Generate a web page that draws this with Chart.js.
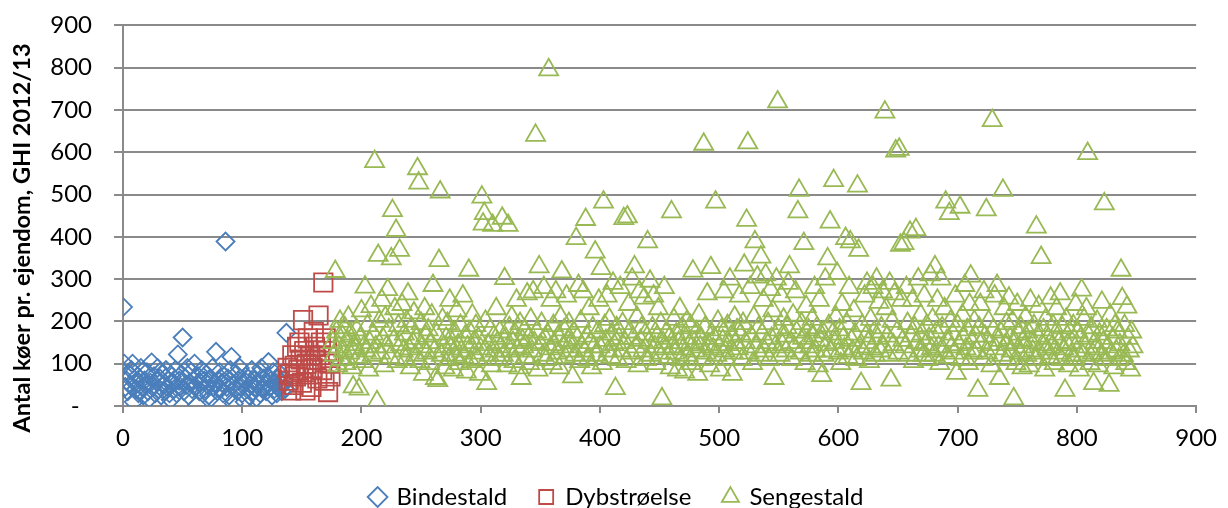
<!DOCTYPE html>
<html>
<head>
<meta charset="utf-8">
<script src="https://cdn.jsdelivr.net/npm/chart.js@4.4.0/dist/chart.umd.min.js"></script>
<style>
  html, body { margin: 0; padding: 0; background: #fff; overflow: hidden; }
  /* the y tick padding pushes the plot down a bit, so lift the whole canvas */
  #scatter-chart { display: block; margin-top: -11px; }
</style>
</head>
<body>
<canvas id="scatter-chart" width="1228" height="530"></canvas>
<script>
// ================= DATA =================
const seriesNames = ["Bindestald", "Dybstrøelse", "Sengestald"];
const yTitle = "Antal køer pr. ejendom, GHI 2012/13";
const xTicks = [0, 100, 200, 300, 400, 500, 600, 700, 800, 900];
const yTicks = [0, 100, 200, 300, 400, 500, 600, 700, 800, 900];

// farm number of the first farm in each group (farms are numbered one after another)
const bindeStart = 0;
const dybStart = 138;
const sengeStart = 176;

// cows per farm, Bindestald (x 0-137)
const bindeCows = [
  234, 100, 45, 60, 35, 75, 50, 85, 100, 10, 55, 40, 70, 30, 65, 90, 45, 25, 60, 50,
  80, 35, 18, 55, 103, 45, 70, 30, 60, 90, 40, 65, 25, 75, 50, 35, 85, 45, 60, 30,
  15, 70, 55, 40, 85, 30, 122, 60, 45, 75, 162, 35, 65, 50, 90, 25, 55, 80, 40, 60,
  100, 45, 2, 70, 35, 55, 85, 30, 60, 40, 75, 50, 25, 65, 20, 90, 45, 55, 128, 35,
  60, 80, 40, 55, 30, 70, 389, 45, 65, 25, 85, 116, 50, 6, 40, 75, 35, 60, 90, 45,
  30, 55, 10, 70, 40, 65, 25, 50, 85, 35, 60, 45, 20, 75, 55, 30, 90, 40, 65, 50,
  35, 70, 104, 45, 60, 25, 80, 40, 55, 30, 65, 45, 75, 35, 50, 60, 40, 173
];

// cows per farm, Dybstrøelse (x 138-174)
const dybCows = [
  90, 60, 75, 37, 120, 50, 95, 70, 140, 85, 150, 110, 55, 203, 130, 37, 100, 160, 75, 120,
  45, 90, 175, 140, 110, 65, 214, 120, 150, 85, 292, 60, 160, 130, 33, 100, 70
];

// cows per farm, Sengestald (x 176-847)
const sengeCows = [
  150, 120, 318, 175, 95, 140, 200, 110, 165, 130, 185, 100, 155, 210, 125, 170, 90, 45, 145, 135,
  180, 115, 40, 160, 225, 105, 140, 281, 130, 190, 85, 150, 235, 120, 170, 578, 140, 10, 356, 200,
  125, 250, 160, 95, 210, 140, 275, 180, 115, 348, 462, 155, 230, 415, 105, 190, 368, 145, 240, 130,
  170, 110, 200, 265, 135, 90, 185, 150, 220, 120, 160, 561, 527, 105, 195, 140, 75, 230, 165, 125,
  180, 100, 150, 215, 285, 130, 65, 170, 60, 344, 506, 120, 205, 140, 90, 160, 195, 110, 250, 135,
  150, 85, 175, 120, 225, 145, 100, 190, 130, 260, 115, 165, 80, 140, 321, 175, 105, 215, 150, 125,
  190, 110, 160, 75, 135, 494, 430, 455, 200, 53, 145, 120, 180, 95, 427, 165, 130, 230, 150, 110,
  175, 140, 444, 120, 301, 160, 95, 427, 185, 130, 210, 150, 105, 170, 250, 135, 90, 195, 65, 155,
  140, 180, 115, 265, 160, 100, 205, 130, 270, 150, 640, 175, 85, 329, 145, 195, 120, 280, 160, 110,
  170, 795, 135, 250, 100, 190, 145, 270, 125, 165, 90, 210, 317, 140, 180, 115, 260, 155, 195, 130,
  150, 69, 175, 120, 396, 160, 285, 105, 200, 140, 270, 130, 441, 165, 110, 230, 150, 90, 185, 140,
  364, 120, 175, 250, 140, 325, 100, 482, 190, 155, 260, 130, 205, 115, 170, 290, 145, 41, 185, 110,
  160, 280, 130, 195, 443, 150, 105, 447, 240, 175, 125, 300, 160, 329, 140, 210, 95, 270, 155, 185,
  130, 255, 170, 110, 388, 150, 295, 120, 185, 260, 140, 100, 165, 230, 125, 195, 17, 150, 280, 135,
  175, 115, 160, 90, 459, 140, 205, 125, 170, 85, 150, 230, 110, 185, 135, 80, 160, 200, 120, 145,
  190, 100, 319, 150, 130, 175, 75, 215, 140, 160, 110, 619, 185, 125, 265, 145, 95, 327, 170, 135,
  160, 482, 120, 200, 140, 85, 180, 155, 270, 130, 110, 190, 145, 300, 165, 75, 125, 210, 150, 180,
  135, 260, 170, 110, 195, 333, 150, 439, 622, 125, 280, 165, 100, 210, 388, 140, 305, 185, 120, 352,
  170, 250, 130, 310, 150, 195, 110, 275, 160, 225, 65, 140, 300, 719, 180, 120, 260, 145, 205, 165,
  130, 185, 290, 329, 150, 110, 215, 140, 270, 175, 459, 510, 125, 195, 160, 384, 100, 235, 150, 180,
  140, 120, 205, 165, 280, 130, 185, 95, 250, 155, 72, 175, 120, 300, 145, 348, 190, 435, 130, 170,
  533, 150, 210, 313, 125, 180, 100, 240, 160, 135, 396, 195, 115, 280, 388, 155, 130, 225, 170, 110,
  520, 368, 140, 53, 190, 125, 260, 165, 290, 150, 105, 205, 135, 280, 175, 120, 300, 160, 245, 130,
  185, 270, 140, 695, 230, 165, 120, 290, 61, 200, 145, 265, 603, 175, 125, 607, 380, 250, 155, 384,
  140, 280, 195, 120, 411, 165, 250, 105, 185, 417, 150, 300, 130, 215, 170, 120, 260, 145, 190, 110,
  160, 310, 135, 205, 120, 329, 175, 250, 140, 100, 300, 185, 130, 230, 482, 155, 115, 455, 200, 140,
  170, 125, 260, 77, 190, 145, 470, 110, 215, 160, 285, 135, 180, 100, 240, 307, 150, 125, 200, 165,
  130, 37, 185, 240, 150, 110, 270, 165, 464, 125, 200, 145, 95, 675, 180, 260, 135, 285, 155, 65,
  175, 120, 510, 230, 145, 195, 110, 255, 160, 130, 200, 17, 150, 100, 240, 170, 125, 185, 90, 155,
  140, 210, 120, 175, 95, 250, 150, 130, 190, 110, 423, 165, 235, 125, 351, 145, 180, 85, 205, 135,
  160, 115, 255, 140, 190, 100, 170, 230, 125, 150, 265, 110, 185, 135, 37, 205, 145, 95, 175, 120,
  150, 190, 110, 240, 130, 175, 85, 160, 274, 120, 205, 140, 230, 597, 165, 100, 185, 125, 53, 150,
  135, 200, 95, 170, 120, 245, 150, 478, 110, 180, 140, 49, 215, 125, 160, 90, 190, 130, 175, 110,
  145, 321, 254, 120, 190, 100, 234, 160, 130, 85, 175, 140
];

// ================= CHART =================
function toPoints(startX, values) {
  return values.map((y, i) => ({ x: startX + i, y: y }));
}

Chart.defaults.font.family = "Lato, 'Open Sans', sans-serif";
Chart.defaults.font.size = 24;
Chart.defaults.color = "#000";

const gridGrey = "#8a8a8a";

// y-axis title drawn by hand so it can sit a little below the middle, like the original
const yTitlePlugin = {
  id: "yTitle",
  afterDraw(chart) {
    const ctx = chart.ctx;
    ctx.save();
    ctx.translate(22, 249);
    ctx.rotate(-Math.PI / 2);
    ctx.font = "bold 23.5px Lato, sans-serif";
    ctx.fillStyle = "#000";
    ctx.textAlign = "center";
    ctx.textBaseline = "middle";
    ctx.fillText(yTitle, 0, 0);
    ctx.restore();
  }
};

const scatterCtx = document.getElementById("scatter-chart").getContext("2d");

new Chart(scatterCtx, {
  type: "scatter",
  data: {
    datasets: [
      {
        label: seriesNames[0],
        data: toPoints(bindeStart, bindeCows),
        pointStyle: "rectRot",
        pointRadius: 9,
        borderColor: "#4a7ebb",
        backgroundColor: "rgba(0,0,0,0)",
        borderWidth: 1.8,
        order: 3
      },
      {
        label: seriesNames[1],
        data: toPoints(dybStart, dybCows),
        pointStyle: "rect",
        pointRadius: 13,
        borderColor: "#be4b48",
        backgroundColor: "rgba(0,0,0,0)",
        borderWidth: 1.8,
        order: 2
      },
      {
        label: seriesNames[2],
        data: toPoints(sengeStart, sengeCows),
        pointStyle: "triangle",
        pointRadius: 11,
        borderColor: "#98b954",
        backgroundColor: "rgba(0,0,0,0)",
        borderWidth: 1.8,
        order: 1
      }
    ]
  },
  options: {
    responsive: false,
    animation: false,
    // left padding only moves the legend centre; the y axis width below is cut by the same amount
    layout: { padding: { top: 0, right: 22, left: 28, bottom: 0 } },
    plugins: {
      legend: {
        position: "bottom",
        labels: {
          usePointStyle: true,
          boxWidth: 14,
          boxHeight: 14,
          padding: 32,
          color: "#000",
          font: { size: 24 },
          sort: (a, b) => a.datasetIndex - b.datasetIndex
        }
      },
      tooltip: { enabled: false }
    },
    scales: {
      x: {
        type: "linear",
        min: 0,
        max: 900,
        afterBuildTicks: (scale) => { scale.ticks = xTicks.map(v => ({ value: v })); },
        afterFit: (scale) => { scale.height = 47; },
        grid: {
          drawOnChartArea: false,
          color: gridGrey,
          lineWidth: 2,
          tickLength: 7
        },
        border: { color: gridGrey, width: 2 },
        ticks: { padding: 11, maxRotation: 0 }
      },
      y: {
        type: "linear",
        min: 0,
        max: 900,
        afterBuildTicks: (scale) => { scale.ticks = yTicks.map(v => ({ value: v })); },
        afterFit: (scale) => { scale.width = 95; },
        grid: {
          color: gridGrey,
          lineWidth: 2,
          tickLength: 9
        },
        border: { color: gridGrey, width: 2 },
        ticks: {
          padding: 22,
          callback: (v) => (v === 0 ? "-  " : v)
        }
      }
    }
  },
  plugins: [yTitlePlugin]
});
</script>
</body>
</html>
